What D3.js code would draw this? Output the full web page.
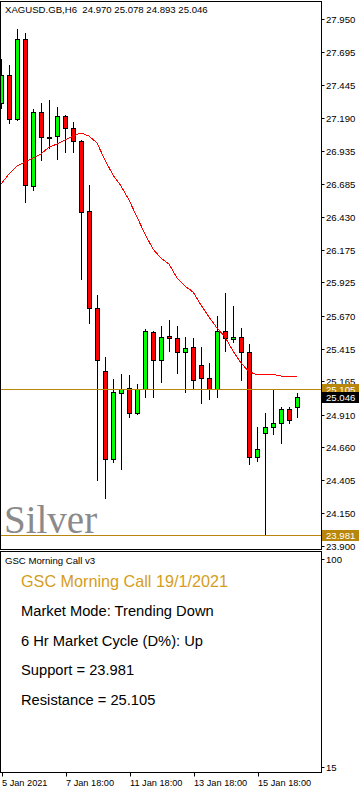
<!DOCTYPE html>
<html>
<head>
<meta charset="utf-8">
<script src="https://cdn.jsdelivr.net/npm/d3@7"></script>
<style>
body { margin: 0; background: #fff; }
text { font-family: "Liberation Sans", Arial, sans-serif; }
</style>
</head>
<body>
<svg id="chart" width="362" height="791"></svg>
<script>
// header line of the chart window
let chart_title = 'XAGUSD.GB,H6  24.970 25.078 24.893 25.046';

// H6 bars, oldest first
let opens  = [27.304, 27.520, 27.182, 27.796, 26.667, 27.235, 27.045, 27.051, 27.205, 27.112,
              27.012, 26.474, 25.729, 25.245, 24.569, 25.076, 25.114, 24.922, 25.106, 25.545,
              25.329, 25.514, 25.499, 25.391, 25.429, 25.291, 25.191, 25.106, 25.552, 25.491,
              25.506, 25.391, 24.584, 24.768, 24.815, 24.845, 24.953, 24.970];
let highs  = [27.643, 27.597, 27.873, 27.842, 27.258, 27.304, 27.328, 27.274, 27.212, 27.158,
              27.020, 26.674, 25.829, 25.352, 25.183, 25.222, 25.214, 25.145, 25.568, 25.552,
              25.591, 25.637, 25.591, 25.506, 25.499, 25.429, 25.306, 25.668, 25.844, 25.744,
              25.575, 25.452, 24.815, 24.922, 25.099, 24.968, 24.968, 25.078];
let lows   = [27.266, 27.151, 27.175, 26.544, 26.636, 26.866, 26.959, 26.874, 26.928, 26.928,
              25.952, 25.614, 24.407, 24.269, 24.546, 24.492, 24.891, 24.918, 25.045, 25.045,
              25.160, 25.395, 25.229, 25.083, 25.114, 24.999, 25.033, 25.047, 25.399, 25.468,
              25.176, 24.530, 24.553, 23.981, 24.761, 24.692, 24.845, 24.893];
let closes = [27.520, 27.182, 27.796, 26.674, 27.235, 27.043, 27.040, 27.205, 27.112, 27.012,
              26.467, 25.729, 25.329, 24.569, 25.083, 25.106, 24.922, 25.106, 25.552, 25.329,
              25.506, 25.499, 25.391, 25.422, 25.176, 25.191, 25.106, 25.552, 25.499, 25.506,
              25.391, 24.584, 24.645, 24.815, 24.845, 24.953, 24.868, 25.046];

// red moving average, one value per bar
let ma_values = [26.682, 26.759, 26.820, 26.851, 26.882, 26.913, 26.966, 26.989, 27.020, 27.051,
                 27.074, 27.051, 26.997, 26.866, 26.751, 26.667, 26.559, 26.428, 26.298, 26.182,
                 26.113, 26.067, 25.960, 25.898, 25.852, 25.752, 25.660, 25.575, 25.506, 25.399,
                 25.306, 25.240, 25.216, 25.222, 25.218, 25.206, 25.199, 25.199];

// price scale labels
let price_ticks = ['27.950', '27.695', '27.445', '27.190', '26.935', '26.685', '26.430', '26.175',
                   '25.925', '25.670', '25.415', '25.165', '24.910', '24.660', '24.405', '24.150', '23.900'];

// time scale labels and the bar they sit on
let time_labels = ['5 Jan 2021', '7 Jan 18:00', '11 Jan 18:00', '13 Jan 18:00', '15 Jan 18:00'];
let time_label_bars = [0, 8, 16, 24, 32];

let support = 23.981;
let resistance = 25.105;
let last_price = 25.046;

// indicator window
let sub_name = 'GSC Morning Call v3';
let sub_title = 'GSC Morning Call 19/1/2021';
let sub_lines = ['Market Mode: Trending Down', '6 Hr Market Cycle (D%): Up',
                 'Support = 23.981', 'Resistance = 25.105'];
let sub_scale = [100, 15];


let svg = d3.select('#chart');

let left = 0.5, right = 321.5;
let main_top = 1.5, main_bottom = 549.5;
let sub_top = 551.5, sub_bottom = 772.5;
let gold = '#b8860b';

let x = d3.scaleLinear().domain([0, 40]).range([1, 321]);
let y = d3.scaleLinear().domain([23.90, 27.95]).range([546, 19]);
let ySub = d3.scaleLinear().domain([15, 100]).range([767, 559]);

svg.append('defs').append('clipPath').attr('id', 'main_clip')
    .append('rect')
    .attr('x', 1).attr('y', 2)
    .attr('width', right - 1.5).attr('height', main_bottom - 2.5);

let plot = svg.append('g').attr('clip-path', 'url(#main_clip)');

// watermark
plot.append('text')
    .attr('x', 4).attr('y', 533)
    .style('font-family', '"Liberation Serif", "DejaVu Serif", serif')
    .attr('font-size', '39px')
    .attr('fill', '#8a8a8a')
    .text('Silver');

let bars = d3.range(opens.length).map(i => ({
    i: i, o: opens[i], h: highs[i], l: lows[i], c: closes[i]
}));

let px = v => Math.round(y(v));

// wicks
plot.selectAll('.wick')
    .data(bars)
    .join('line')
    .attr('class', 'wick')
    .attr('x1', d => Math.round(x(d.i)) + 0.5)
    .attr('x2', d => Math.round(x(d.i)) + 0.5)
    .attr('y1', d => px(d.h))
    .attr('y2', d => px(d.l) + 1)
    .attr('stroke', 'black');

// bodies
plot.selectAll('.body')
    .data(bars)
    .join('rect')
    .attr('class', 'body')
    .attr('x', d => Math.round(x(d.i)) - 1.5)
    .attr('y', d => px(Math.max(d.o, d.c)) + 0.5)
    .attr('width', 4)
    .attr('height', d => Math.max(px(Math.min(d.o, d.c)) - px(Math.max(d.o, d.c)), 1))
    .attr('fill', d => d.c >= d.o ? '#00ff00' : '#ff0000')
    .attr('stroke', 'black');

// moving average
let ma_line = d3.line()
    .x((d, i) => x(i))
    .y(d => y(d));

plot.append('path')
    .attr('d', ma_line(ma_values))
    .attr('fill', 'none')
    .attr('stroke', '#ff0000')
    .attr('stroke-width', 1)
    .attr('shape-rendering', 'crispEdges');

// support / resistance lines
plot.selectAll('.level')
    .data([resistance, support])
    .join('line')
    .attr('class', 'level')
    .attr('x1', left).attr('x2', right)
    .attr('y1', d => px(d) + 0.5)
    .attr('y2', d => px(d) + 0.5)
    .attr('stroke', gold);

// frames
svg.append('rect')
    .attr('x', left).attr('y', main_top)
    .attr('width', right - left).attr('height', main_bottom - main_top)
    .attr('fill', 'none').attr('stroke', 'black');

svg.append('rect')
    .attr('x', left).attr('y', sub_top)
    .attr('width', right - left).attr('height', sub_bottom - sub_top)
    .attr('fill', 'none').attr('stroke', 'black');

svg.append('text')
    .attr('x', 5).attr('y', 13)
    .attr('font-size', '9.6px')
    .style('white-space', 'pre')
    .text(chart_title);

// price axis
let price_axis = svg.append('g');

price_axis.selectAll('line')
    .data(price_ticks)
    .join('line')
    .attr('x1', right).attr('x2', right + 3)
    .attr('y1', d => px(+d) + 0.5)
    .attr('y2', d => px(+d) + 0.5)
    .attr('stroke', 'black');

price_axis.selectAll('text')
    .data(price_ticks)
    .join('text')
    .attr('x', 326)
    .attr('y', d => px(+d) + 4)
    .attr('font-size', '9.6px')
    .text(d => d);

// price boxes on the axis
let boxes = [
    {v: resistance, fill: gold},
    {v: last_price, fill: 'black'},
    {v: support, fill: gold}
];

let box_g = svg.selectAll('.pbox')
    .data(boxes)
    .join('g')
    .attr('class', 'pbox')
    .attr('transform', d => 'translate(322,' + (px(d.v) - 5) + ')');

box_g.append('rect')
    .attr('width', 37).attr('height', 11)
    .attr('fill', d => d.fill);

box_g.append('text')
    .attr('x', 4).attr('y', 9)
    .attr('font-size', '9.6px')
    .attr('fill', 'white')
    .text(d => d.v.toFixed(3));

// indicator window texts
svg.append('text')
    .attr('x', 5).attr('y', 564)
    .attr('font-size', '9.6px')
    .text(sub_name);

svg.append('text')
    .attr('x', 21).attr('y', 587)
    .attr('font-size', '16.2px')
    .attr('fill', '#d49d1d')
    .text(sub_title);

svg.selectAll('.sub_line')
    .data(sub_lines)
    .join('text')
    .attr('class', 'sub_line')
    .attr('x', 21)
    .attr('y', (d, i) => 616 + i * 29.7)
    .attr('font-size', '14.7px')
    .text(d => d);

let sub_axis = svg.append('g');

sub_axis.selectAll('line')
    .data(sub_scale)
    .join('line')
    .attr('x1', right).attr('x2', right + 3)
    .attr('y1', d => Math.round(ySub(d)) + 0.5)
    .attr('y2', d => Math.round(ySub(d)) + 0.5)
    .attr('stroke', 'black');

sub_axis.selectAll('text')
    .data(sub_scale)
    .join('text')
    .attr('x', 326)
    .attr('y', d => Math.round(ySub(d)) + 4)
    .attr('font-size', '9.6px')
    .text(d => d);

// time axis
let time_axis = svg.append('g');

time_axis.selectAll('line')
    .data(time_label_bars)
    .join('line')
    .attr('x1', d => Math.round(x(d)) + 1.5)
    .attr('x2', d => Math.round(x(d)) + 1.5)
    .attr('y1', sub_bottom).attr('y2', sub_bottom + 4)
    .attr('stroke', 'black');

time_axis.selectAll('text')
    .data(time_label_bars)
    .join('text')
    .attr('x', d => Math.round(x(d)) + 1)
    .attr('y', 786)
    .attr('font-size', '9.2px')
    .text((d, i) => time_labels[i]);
</script>
</body>
</html>
